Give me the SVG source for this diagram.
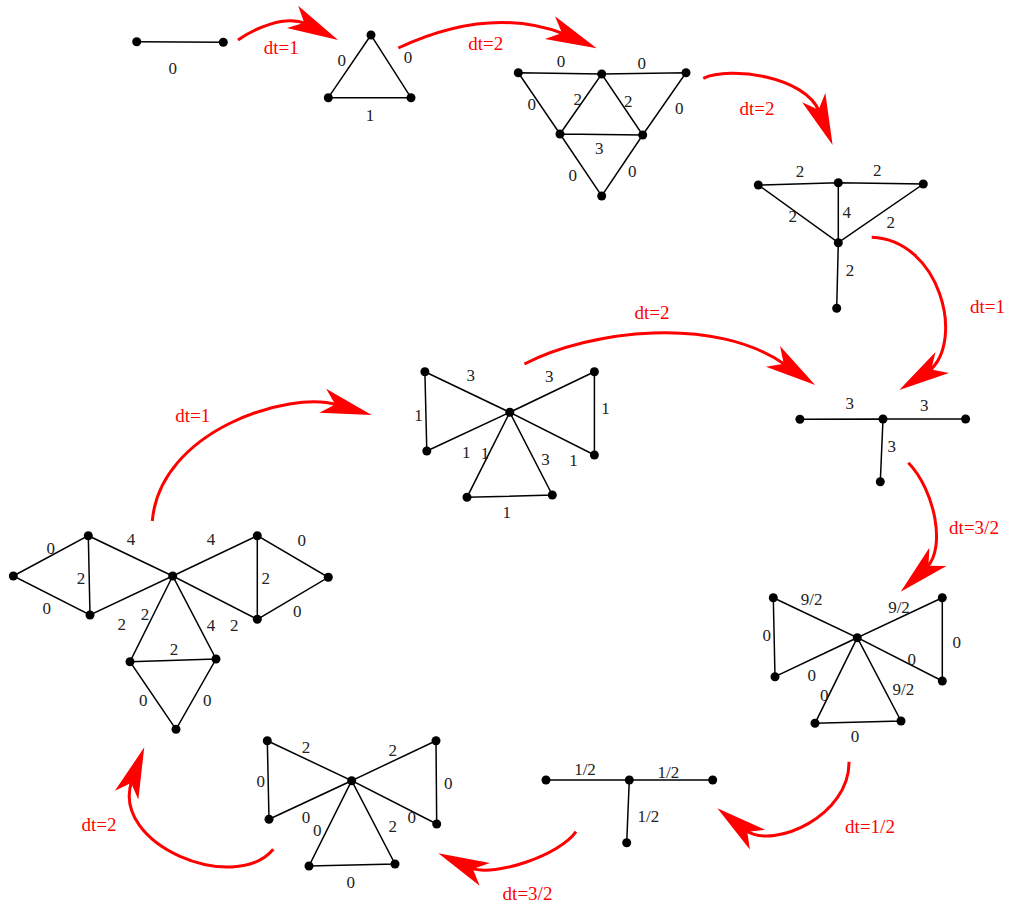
<svg xmlns="http://www.w3.org/2000/svg" width="1010" height="906" viewBox="0 0 1010 906">
<style>
.e{stroke:#000;stroke-width:1.5;fill:none}
.n{fill:#000}
.l{font-family:"Liberation Serif","Times New Roman",serif;font-size:17px;text-anchor:middle;fill:#222}
.r{font-family:"Liberation Serif","Times New Roman",serif;font-size:19px;text-anchor:middle;fill:#ff0000}
.a{stroke:#ff0000;stroke-width:3;fill:none;marker-end:url(#ah)}
</style>
<defs>
<marker id="ah" markerUnits="userSpaceOnUse" markerWidth="60" markerHeight="30" refX="41" refY="13" orient="auto" overflow="visible">
<path d="M51,13 L0,0.5 L13,13 L0,25.5 Z" fill="#ff0000"/>
</marker>
</defs>
<rect width="1010" height="906" fill="#fff"/>

<g id="connectors">
<path class="a" d="M238,40 C255,28 285,15 305.9,23.7 L329.1,35.5"/>
<path class="a" d="M398.3,48 Q489,5.5 563.8,33.8 L587.5,44.3"/>
<path class="a" d="M703.3,78.3 C730,66 805,76 819.3,111.6 L828.9,135.7"/>
<path class="a" d="M871.7,237.3 C940,240 965,340 929.6,370.6 L907.7,384.6"/>
<path class="a" d="M524.4,364 C590,330 715,315 785.4,364.8 L806.9,379.4"/>
<path class="a" d="M908.3,462.7 C935,490 946,548 927,567.1 L908,584.9"/>
<path class="a" d="M849,761.7 C850,815 775,850 745.7,830.4 L725.2,814.4"/>
<path class="a" d="M576,831.7 C560,855 495,877 471.1,868.1 L447.4,857.4"/>
<path class="a" d="M273.3,849.3 C235,895 110,845 131.8,781.1 L140.8,756.7"/>
<path class="a" d="M152.3,521 C160,430 290,390 337.1,405 L362.1,412.2"/>
<text class="r" x="281.3" y="54">dt=1</text>
<text class="r" x="485.7" y="50">dt=2</text>
<text class="r" x="757" y="115">dt=2</text>
<text class="r" x="987.5" y="312.7">dt=1</text>
<text class="r" x="652" y="319">dt=2</text>
<text class="r" x="192.8" y="422">dt=1</text>
<text class="r" x="974" y="534">dt=3/2</text>
<text class="r" x="870" y="832.7">dt=1/2</text>
<text class="r" x="527.5" y="900">dt=3/2</text>
<text class="r" x="99" y="830.7">dt=2</text>
</g>

<g id="g1">
<line class="e" x1="136.7" y1="41.7" x2="223.3" y2="42.3"/>
<circle class="n" cx="136.7" cy="41.7" r="4.5"/>
<circle class="n" cx="223.3" cy="42.3" r="4.5"/>
<text class="l" x="172.7" y="74">0</text>
</g>

<g id="g2">
<path class="e" d="M371,35 L328.3,97.7 L411,97.7 Z"/>
<circle class="n" cx="371" cy="35" r="4.5"/>
<circle class="n" cx="328.3" cy="97.7" r="4.5"/>
<circle class="n" cx="411" cy="97.7" r="4.5"/>
<text class="l" x="341.7" y="66.4">0</text>
<text class="l" x="408" y="63.4">0</text>
<text class="l" x="370" y="120.7">1</text>
</g>

<g id="g3">
<path class="e" d="M518.3,72.7 L601.7,74 L686,72.7 L642.7,135 L560,134 Z M560,134 L601.7,74 L642.7,135 L601.7,196 Z"/>
<circle class="n" cx="518.3" cy="72.7" r="4.5"/>
<circle class="n" cx="601.7" cy="74" r="4.5"/>
<circle class="n" cx="686" cy="72.7" r="4.5"/>
<circle class="n" cx="560" cy="134" r="4.5"/>
<circle class="n" cx="642.7" cy="135" r="4.5"/>
<circle class="n" cx="601.7" cy="196" r="4.5"/>
<text class="l" x="561" y="67.4">0</text>
<text class="l" x="641.7" y="68.7">0</text>
<text class="l" x="531.7" y="109.7">0</text>
<text class="l" x="577.7" y="105">2</text>
<text class="l" x="628.3" y="107.4">2</text>
<text class="l" x="679.3" y="113.7">0</text>
<text class="l" x="599.3" y="153.7">3</text>
<text class="l" x="572.7" y="180.7">0</text>
<text class="l" x="632.3" y="177.4">0</text>
</g>

<g id="g4">
<path class="e" d="M758.3,185 L838.3,182.7 L923.3,184 L838.3,242.7 Z M838.3,182.7 L838.3,242.7 L836.7,308.3"/>
<circle class="n" cx="758.3" cy="185" r="4.5"/>
<circle class="n" cx="838.3" cy="182.7" r="4.5"/>
<circle class="n" cx="923.3" cy="184" r="4.5"/>
<circle class="n" cx="838.3" cy="242.7" r="4.5"/>
<circle class="n" cx="836.7" cy="308.3" r="4.5"/>
<text class="l" x="800" y="177.4">2</text>
<text class="l" x="877.3" y="175.7">2</text>
<text class="l" x="792.7" y="221.7">2</text>
<text class="l" x="846.7" y="218.4">4</text>
<text class="l" x="890.7" y="228.4">2</text>
<text class="l" x="850" y="276.4">2</text>
</g>

<g id="g5">
<path class="e" d="M799.9,419.3 L883,419 L965.6,419 M883,419 L880.3,481.7"/>
<circle class="n" cx="799.9" cy="419.3" r="4.5"/>
<circle class="n" cx="883" cy="419" r="4.5"/>
<circle class="n" cx="965.6" cy="419" r="4.5"/>
<circle class="n" cx="880.3" cy="481.7" r="4.5"/>
<text class="l" x="849.7" y="409">3</text>
<text class="l" x="924.3" y="410.7">3</text>
<text class="l" x="891.8" y="452.4">3</text>
</g>

<g id="g6">
<path class="e" d="M424.9,371.7 L509.8,412.3 L594.4,371.7 L594.4,455 L509.8,412.3 L426.8,451 Z M509.8,412.3 L467,497.3 L552.3,495 Z"/>
<circle class="n" cx="424.9" cy="371.7" r="4.5"/>
<circle class="n" cx="594.4" cy="371.7" r="4.5"/>
<circle class="n" cx="509.8" cy="412.3" r="4.5"/>
<circle class="n" cx="426.8" cy="451" r="4.5"/>
<circle class="n" cx="594.4" cy="455" r="4.5"/>
<circle class="n" cx="467" cy="497.3" r="4.5"/>
<circle class="n" cx="552.3" cy="495" r="4.5"/>
<text class="l" x="470.8" y="380.7">3</text>
<text class="l" x="549.2" y="382.4">3</text>
<text class="l" x="418.4" y="420.7">1</text>
<text class="l" x="605.5" y="414">1</text>
<text class="l" x="466.2" y="458.4">1</text>
<text class="l" x="485" y="459">1</text>
<text class="l" x="545.4" y="465">3</text>
<text class="l" x="573.4" y="465.7">1</text>
<text class="l" x="506.7" y="518.4">1</text>
</g>

<g id="g7">
<path class="e" d="M13.3,576 L88.3,535.7 L172.7,576 L90,615 Z M88.3,535.7 L90,615 M172.7,576 L257.3,535.7 L328.3,577.3 L257.3,619.3 Z M257.3,535.7 L257.3,619.3 M172.7,576 L130,661.7 L176,729.3 L216,659 Z M130,661.7 L216,659"/>
<circle class="n" cx="13.3" cy="576" r="4.5"/>
<circle class="n" cx="88.3" cy="535.7" r="4.5"/>
<circle class="n" cx="90" cy="615" r="4.5"/>
<circle class="n" cx="172.7" cy="576" r="4.5"/>
<circle class="n" cx="257.3" cy="535.7" r="4.5"/>
<circle class="n" cx="328.3" cy="577.3" r="4.5"/>
<circle class="n" cx="257.3" cy="619.3" r="4.5"/>
<circle class="n" cx="130" cy="661.7" r="4.5"/>
<circle class="n" cx="216" cy="659" r="4.5"/>
<circle class="n" cx="176" cy="729.3" r="4.5"/>
<text class="l" x="50.7" y="554">0</text>
<text class="l" x="81" y="584">2</text>
<text class="l" x="46.7" y="614">0</text>
<text class="l" x="131" y="544.7">4</text>
<text class="l" x="211" y="544.7">4</text>
<text class="l" x="301.7" y="545.7">0</text>
<text class="l" x="265.7" y="584">2</text>
<text class="l" x="297.3" y="617.4">0</text>
<text class="l" x="121.7" y="630">2</text>
<text class="l" x="145" y="620">2</text>
<text class="l" x="211" y="630.7">4</text>
<text class="l" x="234.3" y="630.7">2</text>
<text class="l" x="174" y="655">2</text>
<text class="l" x="143.3" y="705.7">0</text>
<text class="l" x="207.3" y="705.7">0</text>
</g>

<g id="g8">
<path class="e" d="M773.3,597.7 L857.3,637.7 L942.3,597.7 L942.3,681 L857.3,637.7 L775,676.7 Z M857.3,637.7 L815,723.3 L901,721 Z"/>
<circle class="n" cx="773.3" cy="597.7" r="4.5"/>
<circle class="n" cx="942.3" cy="597.7" r="4.5"/>
<circle class="n" cx="857.3" cy="637.7" r="4.5"/>
<circle class="n" cx="775" cy="676.7" r="4.5"/>
<circle class="n" cx="942.3" cy="681" r="4.5"/>
<circle class="n" cx="815" cy="723.3" r="4.5"/>
<circle class="n" cx="901" cy="721" r="4.5"/>
<text class="l" x="811.7" y="605">9/2</text>
<text class="l" x="899" y="613">9/2</text>
<text class="l" x="766.7" y="640.7">0</text>
<text class="l" x="956.7" y="648.4">0</text>
<text class="l" x="811.7" y="680.7">0</text>
<text class="l" x="911.7" y="665">0</text>
<text class="l" x="824.3" y="700.7">0</text>
<text class="l" x="903.3" y="695">9/2</text>
<text class="l" x="855" y="741.7">0</text>
</g>

<g id="g9">
<path class="e" d="M546,780 L629.3,780 L712.7,780 M629.3,780 L626.7,842.7"/>
<circle class="n" cx="546" cy="780" r="4.5"/>
<circle class="n" cx="629.3" cy="780" r="4.5"/>
<circle class="n" cx="712.7" cy="780" r="4.5"/>
<circle class="n" cx="626.7" cy="842.7" r="4.5"/>
<text class="l" x="585" y="775">1/2</text>
<text class="l" x="668.3" y="778.4">1/2</text>
<text class="l" x="648.3" y="821.7">1/2</text>
</g>

<g id="g10">
<path class="e" d="M267.3,740.7 L351.7,780.7 L436,740.7 L436.7,824 L351.7,780.7 L269,819.3 Z M351.7,780.7 L309,866 L395,864 Z"/>
<circle class="n" cx="267.3" cy="740.7" r="4.5"/>
<circle class="n" cx="436" cy="740.7" r="4.5"/>
<circle class="n" cx="351.7" cy="780.7" r="4.5"/>
<circle class="n" cx="269" cy="819.3" r="4.5"/>
<circle class="n" cx="436.7" cy="824" r="4.5"/>
<circle class="n" cx="309" cy="866" r="4.5"/>
<circle class="n" cx="395" cy="864" r="4.5"/>
<text class="l" x="306" y="753">2</text>
<text class="l" x="392.7" y="756.4">2</text>
<text class="l" x="260.7" y="787.4">0</text>
<text class="l" x="448.3" y="789">0</text>
<text class="l" x="306" y="823">0</text>
<text class="l" x="411.7" y="823">0</text>
<text class="l" x="317.3" y="835.7">0</text>
<text class="l" x="392.7" y="832.4">2</text>
<text class="l" x="350.7" y="888.4">0</text>
</g>
</svg>
